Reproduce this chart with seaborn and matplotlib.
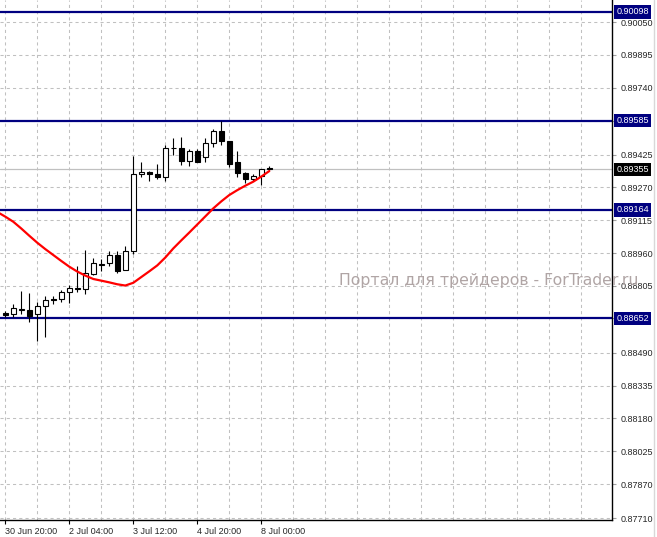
import numpy as np
import pandas as pd
import matplotlib
matplotlib.use("Agg")
import matplotlib.pyplot as plt
import seaborn as sns
from matplotlib.lines import Line2D

# H4 candles, EURGBP-like quotes
opens = [0.88677, 0.88674, 0.88693, 0.88693, 0.88671, 0.88709, 0.88743, 0.88742, 0.88775, 0.88792,
         0.88789, 0.88861, 0.88906, 0.88912, 0.88949, 0.88880, 0.88968, 0.89332, 0.89342, 0.89333,
         0.89317, 0.89454, 0.89456, 0.89396, 0.89440, 0.89415, 0.89478, 0.89537, 0.89487, 0.89390,
         0.89336, 0.89311, 0.89324, 0.89360]
highs = [0.88687, 0.88720, 0.88781, 0.88770, 0.88729, 0.88759, 0.88756, 0.88784, 0.88809, 0.88897,
         0.88977, 0.88935, 0.88933, 0.88971, 0.88971, 0.88993, 0.89418, 0.89388, 0.89345, 0.89379,
         0.89468, 0.89503, 0.89509, 0.89449, 0.89449, 0.89503, 0.89547, 0.89585, 0.89490, 0.89440,
         0.89342, 0.89333, 0.89358, 0.89371]
lows = [0.88658, 0.88658, 0.88674, 0.88636, 0.88545, 0.88565, 0.88721, 0.88731, 0.88726, 0.88778,
        0.88768, 0.88856, 0.88877, 0.88899, 0.88864, 0.88878, 0.88954, 0.89317, 0.89301, 0.89308,
        0.89302, 0.89421, 0.89377, 0.89371, 0.89390, 0.89390, 0.89459, 0.89468, 0.89367, 0.89317,
        0.89289, 0.89299, 0.89282, 0.89349]
closes = [0.88670, 0.88701, 0.88696, 0.88664, 0.88709, 0.88737, 0.88739, 0.88775, 0.88794, 0.88795,
          0.88864, 0.88912, 0.88908, 0.88949, 0.88874, 0.88968, 0.89332, 0.89342, 0.89332, 0.89317,
          0.89454, 0.89456, 0.89396, 0.89440, 0.89390, 0.89481, 0.89537, 0.89487, 0.89380, 0.89339,
          0.89311, 0.89324, 0.89355, 0.89355]

# moving average (starts one bar before the first visible candle)
ma_values = [0.89154, 0.89132, 0.89108, 0.89076, 0.89042, 0.89009, 0.88979, 0.88951, 0.88923, 0.88896,
             0.88873, 0.88854, 0.88838, 0.88830, 0.88822, 0.88813, 0.88807, 0.88820, 0.88847, 0.88874,
             0.88902, 0.88939, 0.88982, 0.89020, 0.89057, 0.89095, 0.89133, 0.89171, 0.89204, 0.89234,
             0.89257, 0.89278, 0.89297, 0.89321, 0.89347]

levels = [0.90098, 0.89585, 0.89164, 0.88652]
bid = 0.89355

price_ticks = [0.90050, 0.89895, 0.89740, 0.89585, 0.89425, 0.89270, 0.89115, 0.88960,
               0.88805, 0.88652, 0.88490, 0.88335, 0.88180, 0.88025, 0.87870, 0.87710]
price_labels = ['0.90050', '0.89895', '0.89740', '', '0.89425', '0.89270', '0.89115', '0.88960',
                '0.88805', '', '0.88490', '0.88335', '0.88180', '0.88025', '0.87870', '0.87710']
time_labels = ['30 Jun 20:00', '2 Jul 04:00', '3 Jul 12:00', '4 Jul 20:00', '8 Jul 00:00']

df = pd.DataFrame({'open': opens, 'high': highs, 'low': lows, 'close': closes})
df['bar'] = np.arange(len(df))
ma = pd.DataFrame({'bar': np.arange(-1, len(ma_values) - 1), 'ma': ma_values})

sns.set_style('white')
plt.rcParams['font.family'] = ['Liberation Sans', 'DejaVu Sans']

W, H = 657, 537
fig = plt.figure(figsize=(W / 100, H / 100), dpi=100)
ax = fig.add_axes([0, 17 / H, 612 / W, 520 / H])

grid_kw = dict(color='#c0c0c0', lw=0.75, linestyle=(0, (3, 3)), zorder=0)
for v in price_ticks:
    ax.axhline(v, **grid_kw)
for b in range(0, 80, 4):
    ax.axvline(b, **grid_kw)

# bid line
ax.axhline(bid, color='#c0c0c0', lw=0.9, zorder=1)

# support / resistance levels
for lv in levels:
    ax.axhline(lv, color='#000080', lw=1.6, zorder=2)

# candles
ax.vlines(df['bar'], df['low'], df['high'], color='black', lw=0.8, zorder=3)
up = df['close'] >= df['open']
body = (df['close'] - df['open']).abs().clip(lower=0.000012)
bottom = df[['open', 'close']].min(axis=1)
ax.bar(df['bar'][up], body[up], bottom=bottom[up], width=0.6,
       color='white', edgecolor='black', lw=0.8, zorder=4)
ax.bar(df['bar'][~up], body[~up], bottom=bottom[~up], width=0.6,
       color='black', edgecolor='black', lw=0.8, zorder=4)

sns.lineplot(data=ma, x='bar', y='ma', color='#ff0000', lw=1.6, ax=ax, zorder=5)

ax.set_xlim(-0.66, -0.66 + 612 / 8)
ax.set_ylim(0.87701, 0.90154)

ax.set_xticks(range(0, 8 * len(time_labels), 8))
ax.set_xticklabels(time_labels, ha='left', fontsize=6.5)
ax.yaxis.tick_right()
ax.set_yticks(price_ticks)
ax.set_yticklabels(price_labels, fontsize=6.5)
ax.tick_params(axis='x', length=3, width=0.8, pad=2, color='black', bottom=True)
ax.tick_params(axis='y', length=3, width=0.8, pad=3, color='#a0a0a0', right=True, left=False)
ax.set_xlabel('')
ax.set_ylabel('')
ax.grid(False)

for side in ['left', 'top']:
    ax.spines[side].set_visible(False)
for side in ['right', 'bottom']:
    ax.spines[side].set_visible(True)
    ax.spines[side].set_color('black')
    ax.spines[side].set_linewidth(1)

# price boxes on the right scale
for lv in levels:
    ax.annotate(f'{lv:.5f}', xy=(1, lv), xycoords=('axes fraction', 'data'),
                xytext=(3, 0), textcoords='offset points', va='center', ha='left',
                fontsize=6.5, color='white', zorder=10, annotation_clip=False,
                bbox=dict(boxstyle='square,pad=0.25', fc='#000080', ec='none'))
ax.annotate(f'{bid:.5f}', xy=(1, bid), xycoords=('axes fraction', 'data'),
            xytext=(3, 0), textcoords='offset points', va='center', ha='left',
            fontsize=6.5, color='white', zorder=10, annotation_clip=False,
            bbox=dict(boxstyle='square,pad=0.25', fc='black', ec='none'))

# watermark (sits behind the price scale, as in the terminal)
fig.text(489 / W, 1 - 280 / H, 'Портал для трейдеров - ForTrader.ru', ha='center', va='center',
         fontsize=11.3, color='#b0a5a5', family=['DejaVu Sans'], zorder=0)

fig.add_artist(Line2D([654 / W, 654 / W], [0, 1], color='#d8d8d8', lw=1))

fig.savefig('out.png', dpi=100)
